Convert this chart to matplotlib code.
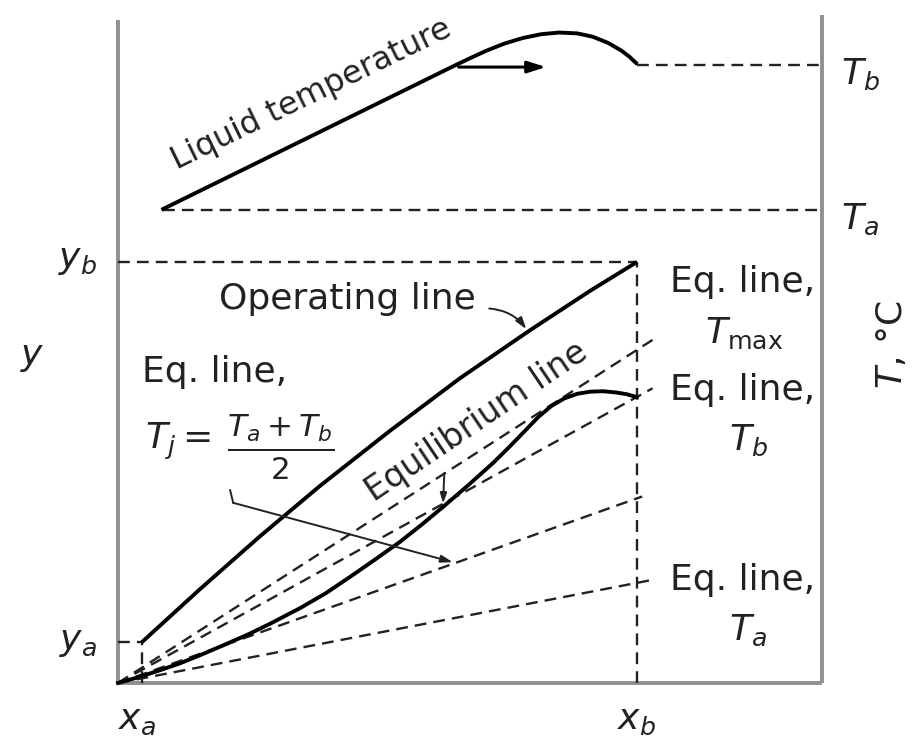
import matplotlib
matplotlib.use("Agg")
import matplotlib.pyplot as plt

# schematic units: x_a = 0, x_b = 1 on the x axis; y_b = 1 on the y axis
frame_right = 1.356
frame_top_left = 1.575
frame_top_right = 1.587
x_a_op, y_a_op = 0.046, 0.097
T_a_level = 1.1235
T_b_level = 1.468
T_a_start = 0.087

# operating line (slightly bowed)
op_x = [0.046, 0.158, 0.274, 0.389, 0.524, 0.659, 0.794, 0.909, 1.0]
op_y = [0.097, 0.223, 0.349, 0.468, 0.599, 0.724, 0.838, 0.931, 1.0]

# equilibrium line with temperature bulge
eq_x = [0.0, 0.04, 0.08, 0.12, 0.158, 0.2, 0.25, 0.295, 0.351, 0.40, 0.447, 0.495,
        0.543, 0.585, 0.626, 0.675, 0.723, 0.755, 0.785, 0.81, 0.835, 0.86, 0.885,
        0.91, 0.935, 0.96, 0.98, 1.0]
eq_y = [0.0, 0.014, 0.030, 0.047, 0.066, 0.088, 0.115, 0.142, 0.178, 0.213, 0.252, 0.293,
        0.335, 0.376, 0.418, 0.470, 0.523, 0.562, 0.600, 0.632, 0.658, 0.676, 0.687,
        0.692, 0.693, 0.690, 0.686, 0.679]

# liquid temperature profile
liq_x = [0.087, 0.651, 0.68, 0.71, 0.745, 0.78, 0.815, 0.85, 0.885, 0.915, 0.945, 0.97, 0.985, 0.998]
liq_y = [1.126, 1.468, 1.485, 1.502, 1.519, 1.532, 1.541, 1.545, 1.543, 1.535, 1.520, 1.502, 1.488, 1.473]

# straight equilibrium lines at fixed temperature, end points past x_b
eqline_names = ["Tmax", "Tb", "Tj", "Ta"]
eqline_end_x = [1.03, 1.03, 1.01, 1.03]
eqline_end_y = [0.815, 0.700, 0.443, 0.245]

INK = "#222222"
FRAME = "#8f8f8f"
DASH = (0, (5, 3))

fig = plt.figure(figsize=(9.19, 7.39), dpi=100)
ax = fig.add_axes([0, 0, 1, 1])
ax.set_xlim(-0.2274, 1.5434)
ax.set_ylim(-0.1330, 1.6223)
ax.axis("off")

# frame
ax.plot([0, 0], [0, frame_top_left], color=FRAME, lw=2.8, solid_capstyle="butt")
ax.plot([0, frame_right], [0, 0], color=FRAME, lw=2.8, solid_capstyle="butt")
ax.plot([frame_right, frame_right], [0, frame_top_right], color=FRAME, lw=2.8, solid_capstyle="butt")

# guide dashes
dk = dict(color=INK, lw=1.7, ls=DASH)
ax.plot([0, 1], [1, 1], **dk)
ax.plot([1, 1], [0, 1], **dk)
ax.plot([0, x_a_op], [y_a_op, y_a_op], **dk)
ax.plot([x_a_op, x_a_op], [0, y_a_op], **dk)
ax.plot([T_a_start, frame_right], [T_a_level, T_a_level], **dk)
ax.plot([1, frame_right], [T_b_level, T_b_level], **dk)

for ex, ey in zip(eqline_end_x, eqline_end_y):
    ax.plot([0, ex], [0, ey], **dk)

# curves
ax.plot(op_x, op_y, color="black", lw=2.8, solid_capstyle="butt", solid_joinstyle="round")
ax.plot(eq_x, eq_y, color="black", lw=2.8, solid_joinstyle="round")
ax.plot(liq_x, liq_y, color="black", lw=2.8, solid_joinstyle="round")

# arrows
ax.annotate("", xy=(0.83, 1.463), xytext=(0.651, 1.463),
            arrowprops=dict(arrowstyle="-|>,head_length=1.1,head_width=0.35", color="black", lw=2.2))
ax.annotate("", xy=(0.79, 0.835), xytext=(0.71, 0.89),
            arrowprops=dict(arrowstyle="-|>,head_length=0.7,head_width=0.22", color=INK, lw=1.4,
                            connectionstyle="arc3,rad=-0.25"))
ax.annotate("", xy=(0.626, 0.420), xytext=(0.629, 0.505),
            arrowprops=dict(arrowstyle="-|>,head_length=0.6,head_width=0.2", color=INK, lw=1.4))
ax.plot([0.216, 0.222], [0.458, 0.428], color=INK, lw=1.4)
ax.annotate("", xy=(0.645, 0.287), xytext=(0.222, 0.428),
            arrowprops=dict(arrowstyle="-|>,head_length=0.7,head_width=0.22", color=INK, lw=1.4,
                            shrinkA=0, shrinkB=0))

# text
tk = dict(color=INK, fontsize=26)
ax.text(0.372, 1.398, "Liquid temperature", rotation=26, ha="center", va="center", color=INK, fontsize=23)
ax.text(0.441, 0.912, "Operating line", ha="center", va="center", **tk)
ax.text(0.690, 0.622, "Equilibrium line", rotation=34, ha="center", va="center", color=INK, fontsize=24)
ax.text(0.046, 0.715, "Eq. line,", ha="left", va="baseline", **tk)
ax.text(0.052, 0.574, r"$T_j =$", ha="left", va="center", **tk)
ax.text(0.314, 0.560, r"$\frac{T_a + T_b}{2}$", ha="center", va="center", color=INK, fontsize=32)

ax.text(1.204, 0.929, "Eq. line,", ha="center", va="baseline", **tk)
ax.text(1.206, 0.808, r"$T_{\mathrm{max}}$", ha="center", va="baseline", **tk)
ax.text(1.204, 0.672, "Eq. line,", ha="center", va="baseline", **tk)
ax.text(1.214, 0.553, r"$T_b$", ha="center", va="baseline", **tk)
ax.text(1.204, 0.221, "Eq. line,", ha="center", va="baseline", **tk)
ax.text(1.214, 0.102, r"$T_a$", ha="center", va="baseline", **tk)

ax.text(1.43, T_b_level - 0.022, r"$T_b$", ha="center", va="center", **tk)
ax.text(1.43, T_a_level - 0.022, r"$T_a$", ha="center", va="center", **tk)
ax.text(1.491, 0.803, r"$T$, °C", rotation=90, ha="center", va="center", **tk)

ax.text(-0.077, 1.005, r"$y_b$", ha="center", va="center", **tk)
ax.text(-0.166, 0.774, r"$y$", ha="center", va="center", **tk)
ax.text(-0.077, y_a_op, r"$y_a$", ha="center", va="center", **tk)
ax.text(0.037, -0.088, r"$x_a$", ha="center", va="center", **tk)
ax.text(1.0, -0.088, r"$x_b$", ha="center", va="center", **tk)

fig.savefig("out.png", dpi=100)
